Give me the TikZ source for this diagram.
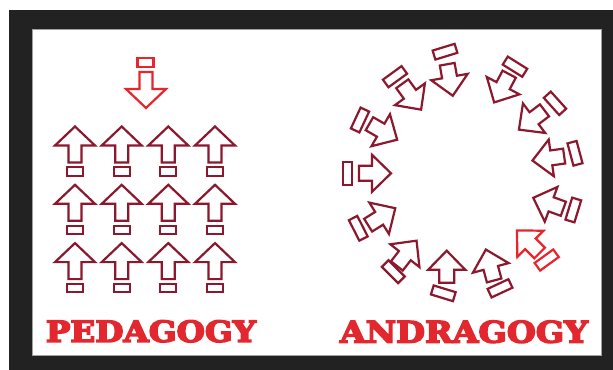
\documentclass[tikz,border=0pt]{standalone}
\usepackage{fontspec}
\newfontfamily\slabfont{DejaVu Serif}[BoldFeatures={FakeBold=5}]
\definecolor{maroonline}{RGB}{140,24,46}
\definecolor{redline}{RGB}{232,36,44}
\definecolor{titlered}{RGB}{226,40,46}
\definecolor{framedark}{RGB}{34,34,34}
\definecolor{panelgray}{RGB}{160,160,160}
\tikzset{
  outline/.style={line width=0.11cm, line join=miter},
  pics/gridarrow/.style={code={
    \draw[outline] (-18,-6.5) -- (-1,-6.5) -- (-1,-20) -- (18,0) -- (-1,20) -- (-1,6.5) -- (-18,6.5) -- cycle;}},
  pics/ringarrow/.style={code={
    \draw[outline] (-16,-7.5) -- (-3,-7.5) -- (-3,-18.5) -- (16,0) -- (-3,18.5) -- (-3,7.5) -- (-16,7.5) -- cycle;}},
  pics/gridbar/.style={code={
    \draw[outline] (-8,-4.2) rectangle (8,4.2);}},
  pics/ringbar/.style={code={
    \draw[outline] (-4.7,-11.5) rectangle (4.7,11.5);}},
  title/.style={text=titlered, inner sep=0pt}
}
\begin{document}
\begin{tikzpicture}[x=0.05cm,y=-0.05cm]
\useasboundingbox (0,0) rectangle (613,370);
\fill[white] (0,0) rectangle (613,370);
\fill[framedark] (9,10) rectangle (613,370);
\draw[panelgray, fill=white, line width=0.05cm] (32,29) rectangle (601,355);

% Pedagogy: teacher arrow
\pic[redline] at (145.5,62.5) {gridbar};
\pic[redline, rotate=-90] at (146,90) {gridarrow};

% Pedagogy: grid of learners
\foreach \cx in {75,121.7,168.3,215}{
  \foreach \ry in {144.5,202.8,261.1}{
    \pic[maroonline, rotate=90] at (\cx,\ry) {gridarrow};
    \pic[maroonline] at (\cx,\ry+27) {gridbar};
  }
}

% Andragogy: ring of arrows
\foreach \ax/\ay/\aa in {450/80/-80, 411.7/96.7/-54, 383.3/131.7/-30, 375/173.3/0,
  381.7/216.7/32, 406.7/253.3/52, 446.7/266.7/90, 490/265/105,
  548.3/203.3/160, 548.3/158.3/188, 531.7/120/-143, 501.7/88.3/-118}{
  \pic[maroonline, rotate=\aa] at (\ax,\ay) {ringarrow};
}
\pic[redline, rotate=135] at (528.3,241.7) {ringarrow};

\foreach \bx/\by/\ba in {445/51.7/-73, 395/76.7/-54, 360/120/-25, 347.3/173.3/0,
  358.3/228.3/27, 393.3/271.7/45, 443.3/293.3/73, 500/288.3/115,
  573.3/210/163, 575/153.3/195, 555/103.3/-138, 515/66.7/-122}{
  \pic[maroonline, rotate=\ba] at (\bx,\by) {ringbar};
}
\pic[redline, rotate=126] at (546.7,260) {ringbar};

% Titles
\node[title] (ped) at (151,331.3) {\resizebox{10.5cm}{1.08cm}{\slabfont\bfseries PEDAGOGY}};
\node[title] (andr) at (464,331.8) {\resizebox{12.4cm}{1.1cm}{\slabfont\bfseries ANDRAGOGY}};
\end{tikzpicture}
\end{document}
